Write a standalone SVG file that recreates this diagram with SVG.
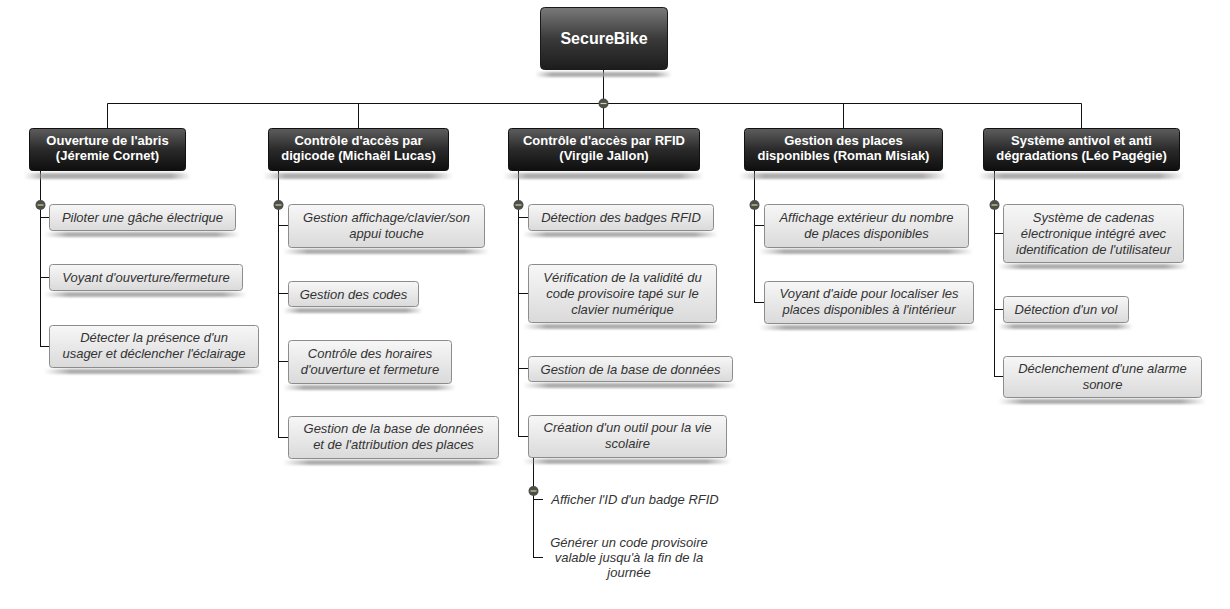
<svg xmlns="http://www.w3.org/2000/svg" width="1230" height="609" viewBox="0 0 1230 609">
<style>
.bg{fill:#ffffff}
.ln{stroke:#111;stroke-width:1;fill:none}
.root{fill:url(#gRoot);stroke:#1a1a1a;stroke-width:1}
.br{fill:url(#gBr);stroke:#111;stroke-width:1}
.ch{fill:url(#gCh);stroke:#8c8c8c;stroke-width:1}
.sh{fill:url(#gSh);filter:url(#blur)}
.tr{font-family:"Liberation Sans",Arial,sans-serif;font-size:16px;font-weight:bold;fill:#fff;text-anchor:middle}
.tb{font-family:"Liberation Sans",Arial,sans-serif;font-size:13px;font-weight:bold;fill:#fff;text-anchor:middle}
.tc{font-family:"Liberation Sans",Arial,sans-serif;font-size:13px;font-style:italic;fill:#333;text-anchor:middle}
.mc{fill:#4d4d4d}
.md{stroke:#c9dc7c;stroke-width:1.2}
</style>
<defs>
<linearGradient id="gRoot" x1="0" y1="0" x2="0" y2="1"><stop offset="0" stop-color="#7a7a7a"/><stop offset="0.5" stop-color="#3a3a3a"/><stop offset="1" stop-color="#1c1c1c"/></linearGradient>
<linearGradient id="gBr" x1="0" y1="0" x2="0" y2="1"><stop offset="0" stop-color="#5e5e5e"/><stop offset="0.5" stop-color="#2a2a2a"/><stop offset="1" stop-color="#0e0e0e"/></linearGradient>
<linearGradient id="gCh" x1="0" y1="0" x2="0" y2="1"><stop offset="0" stop-color="#f7f7f7"/><stop offset="1" stop-color="#dadada"/></linearGradient>
<linearGradient id="gSh" x1="0" y1="0" x2="1" y2="0"><stop offset="0" stop-color="#999" stop-opacity="0"/><stop offset="0.12" stop-color="#999" stop-opacity="0.8"/><stop offset="0.88" stop-color="#999" stop-opacity="0.8"/><stop offset="1" stop-color="#999" stop-opacity="0"/></linearGradient>
<filter id="blur" x="-5%" y="-100%" width="110%" height="300%"><feGaussianBlur stdDeviation="1.3"/></filter>
</defs>
<rect class="bg" x="0" y="0" width="1230" height="609"/>

<g id="connectors">
<path class="ln" d="M603.5 70 V103.5 M107.5 103.5 H1081.5 M107.5 103.5 V128 M358.5 103.5 V128 M603.5 103.5 V128 M843.5 103.5 V128 M1081.5 103.5 V128"/>
<path class="ln" d="M40.5 171 V346.5 M40 217.5 H49 M40 277.5 H49 M40 346.5 H49"/>
<path class="ln" d="M278.5 171 V437.5 M278 225.5 H288 M278 293.5 H288 M278 361.5 H288 M278 437.5 H288"/>
<path class="ln" d="M518.5 171 V436.5 M518 217.5 H528 M518 293.5 H528 M518 368.5 H528 M518 436.5 H528"/>
<path class="ln" d="M533.5 457 V557.5 M533 499.5 H543 M533 557.5 H543"/>
<path class="ln" d="M754.5 171 V302.5 M754 225.5 H764 M754 302.5 H764"/>
<path class="ln" d="M994.5 171 V376.5 M994 233.5 H1003 M994 309.5 H1003 M994 376.5 H1003"/>
<g id="collapse-markers">
<circle class="mc" cx="603.5" cy="103.5" r="5"/><line class="md" x1="600.5" y1="103.5" x2="606.5" y2="103.5"/>
<circle class="mc" cx="40.5" cy="205" r="5"/><line class="md" x1="37.5" y1="205" x2="43.5" y2="205"/>
<circle class="mc" cx="278.5" cy="205" r="5"/><line class="md" x1="275.5" y1="205" x2="281.5" y2="205"/>
<circle class="mc" cx="518.5" cy="205" r="5"/><line class="md" x1="515.5" y1="205" x2="521.5" y2="205"/>
<circle class="mc" cx="754.5" cy="205" r="5"/><line class="md" x1="751.5" y1="205" x2="757.5" y2="205"/>
<circle class="mc" cx="994.5" cy="205" r="5"/><line class="md" x1="991.5" y1="205" x2="997.5" y2="205"/>
<circle class="mc" cx="533.5" cy="491" r="5"/><line class="md" x1="530.5" y1="491" x2="536.5" y2="491"/>
</g>
</g>

<g id="n-root">
<rect class="sh" x="535" y="72" width="137" height="5"/>
<rect class="root" x="540.5" y="7.5" width="127" height="62" rx="4"/>
<text class="tr" x="604" y="44">SecureBike</text>
</g>

<g id="n-b1">
<rect class="sh" x="24" y="173" width="167" height="6"/>
<rect class="br" x="29.5" y="128.5" width="156" height="42" rx="3"/>
<text class="tb" x="107.5" y="144.5">Ouverture de l'abris</text>
<text class="tb" x="107.5" y="159.5">(Jéremie Cornet)</text>
</g>
<g id="n-b1-1">
<rect class="sh" x="44" y="232" width="196" height="5"/>
<rect class="ch" x="49.5" y="204.5" width="186" height="26" rx="3"/>
<text class="tc" x="142.5" y="222">Piloter une gâche électrique</text>
</g>
<g id="n-b1-2">
<rect class="sh" x="44" y="292" width="203" height="5"/>
<rect class="ch" x="49.5" y="264.5" width="193" height="26" rx="3"/>
<text class="tc" x="146" y="282">Voyant d'ouverture/fermeture</text>
</g>
<g id="n-b1-3">
<rect class="sh" x="44" y="369" width="219" height="5"/>
<rect class="ch" x="49.5" y="325.5" width="209" height="42" rx="3"/>
<text class="tc" x="154" y="342">Détecter la présence d'un</text>
<text class="tc" x="154" y="358">usager et déclencher l'éclairage</text>
</g>

<g id="n-b2">
<rect class="sh" x="263" y="173" width="190" height="6"/>
<rect class="br" x="268.5" y="128.5" width="180" height="42" rx="3"/>
<text class="tb" x="358.5" y="144.5">Contrôle d'accès par</text>
<text class="tb" x="358.5" y="159.5">digicode (Michaël Lucas)</text>
</g>
<g id="n-b2-1">
<rect class="sh" x="283" y="249" width="206" height="5"/>
<rect class="ch" x="288.5" y="204.5" width="196" height="43" rx="3"/>
<text class="tc" x="386.5" y="221.5">Gestion affichage/clavier/son</text>
<text class="tc" x="386.5" y="237.5">appui touche</text>
</g>
<g id="n-b2-2">
<rect class="sh" x="283" y="308" width="140" height="5"/>
<rect class="ch" x="288.5" y="281.5" width="130" height="25" rx="3"/>
<text class="tc" x="353.5" y="298.5">Gestion des codes</text>
</g>
<g id="n-b2-3">
<rect class="sh" x="283" y="385" width="173" height="5"/>
<rect class="ch" x="288.5" y="340.5" width="163" height="43" rx="3"/>
<text class="tc" x="370" y="357.5">Contrôle des horaires</text>
<text class="tc" x="370" y="373.5">d'ouverture et fermeture</text>
</g>
<g id="n-b2-4">
<rect class="sh" x="283" y="460" width="220" height="5"/>
<rect class="ch" x="288.5" y="416.5" width="210" height="42" rx="3"/>
<text class="tc" x="393.5" y="433">Gestion de la base de données</text>
<text class="tc" x="393.5" y="449">et de l'attribution des places</text>
</g>

<g id="n-b3">
<rect class="sh" x="503" y="173" width="201" height="6"/>
<rect class="br" x="508.5" y="128.5" width="191" height="42" rx="3"/>
<text class="tb" x="604" y="144.5">Contrôle d'accès par RFID</text>
<text class="tb" x="604" y="159.5">(Virgile Jallon)</text>
</g>
<g id="n-b3-1">
<rect class="sh" x="523" y="232" width="195" height="5"/>
<rect class="ch" x="528.5" y="204.5" width="185" height="26" rx="3"/>
<text class="tc" x="621" y="222">Détection des badges RFID</text>
</g>
<g id="n-b3-2">
<rect class="sh" x="523" y="324" width="198" height="5"/>
<rect class="ch" x="528.5" y="264.5" width="188" height="58" rx="3"/>
<text class="tc" x="622.5" y="282">Vérification de la validité du</text>
<text class="tc" x="622.5" y="298">code provisoire tapé sur le</text>
<text class="tc" x="622.5" y="314">clavier numérique</text>
</g>
<g id="n-b3-3">
<rect class="sh" x="523" y="383" width="214" height="5"/>
<rect class="ch" x="528.5" y="356.5" width="204" height="25" rx="3"/>
<text class="tc" x="630.5" y="373.5">Gestion de la base de données</text>
</g>
<g id="n-b3-4">
<rect class="sh" x="523" y="459" width="208" height="5"/>
<rect class="ch" x="528.5" y="415.5" width="198" height="42" rx="3"/>
<text class="tc" x="627.5" y="432">Création d'un outil pour la vie</text>
<text class="tc" x="627.5" y="448">scolaire</text>
</g>
<g id="n-b3-4-1">
<text class="tc" x="635" y="503.5">Afficher l'ID d'un badge RFID</text>
</g>
<g id="n-b3-4-2">
<text class="tc" x="629" y="547">Générer un code provisoire</text>
<text class="tc" x="629" y="562">valable jusqu'à la fin de la</text>
<text class="tc" x="629" y="577">journée</text>
</g>

<g id="n-b4">
<rect class="sh" x="739" y="173" width="208" height="6"/>
<rect class="br" x="744.5" y="128.5" width="198" height="42" rx="3"/>
<text class="tb" x="843.5" y="144.5">Gestion des places</text>
<text class="tb" x="843.5" y="159.5">disponibles (Roman Misiak)</text>
</g>
<g id="n-b4-1">
<rect class="sh" x="759" y="249" width="214" height="5"/>
<rect class="ch" x="764.5" y="204.5" width="204" height="43" rx="3"/>
<text class="tc" x="866.5" y="221.5">Affichage extérieur du nombre</text>
<text class="tc" x="866.5" y="237.5">de places disponibles</text>
</g>
<g id="n-b4-2">
<rect class="sh" x="759" y="325" width="219" height="5"/>
<rect class="ch" x="764.5" y="281.5" width="209" height="42" rx="3"/>
<text class="tc" x="869" y="298">Voyant d'aide pour localiser les</text>
<text class="tc" x="869" y="314">places disponibles à l'intérieur</text>
</g>

<g id="n-b5">
<rect class="sh" x="978" y="173" width="206" height="6"/>
<rect class="br" x="983.5" y="128.5" width="196" height="42" rx="3"/>
<text class="tb" x="1081.5" y="144.5">Système antivol et anti</text>
<text class="tb" x="1081.5" y="159.5">dégradations (Léo Pagégie)</text>
</g>
<g id="n-b5-1">
<rect class="sh" x="998" y="264" width="190" height="5"/>
<rect class="ch" x="1003.5" y="204.5" width="180" height="58" rx="3"/>
<text class="tc" x="1093.5" y="222">Système de cadenas</text>
<text class="tc" x="1093.5" y="238">électronique intégré avec</text>
<text class="tc" x="1093.5" y="254">identification de l'utilisateur</text>
</g>
<g id="n-b5-2">
<rect class="sh" x="998" y="324" width="135" height="5"/>
<rect class="ch" x="1003.5" y="296.5" width="125" height="26" rx="3"/>
<text class="tc" x="1066" y="314">Détection d'un vol</text>
</g>
<g id="n-b5-3">
<rect class="sh" x="998" y="399" width="208" height="5"/>
<rect class="ch" x="1003.5" y="356.5" width="198" height="41" rx="3"/>
<text class="tc" x="1102.5" y="372.5">Déclenchement d'une alarme</text>
<text class="tc" x="1102.5" y="388.5">sonore</text>
</g>
</svg>
